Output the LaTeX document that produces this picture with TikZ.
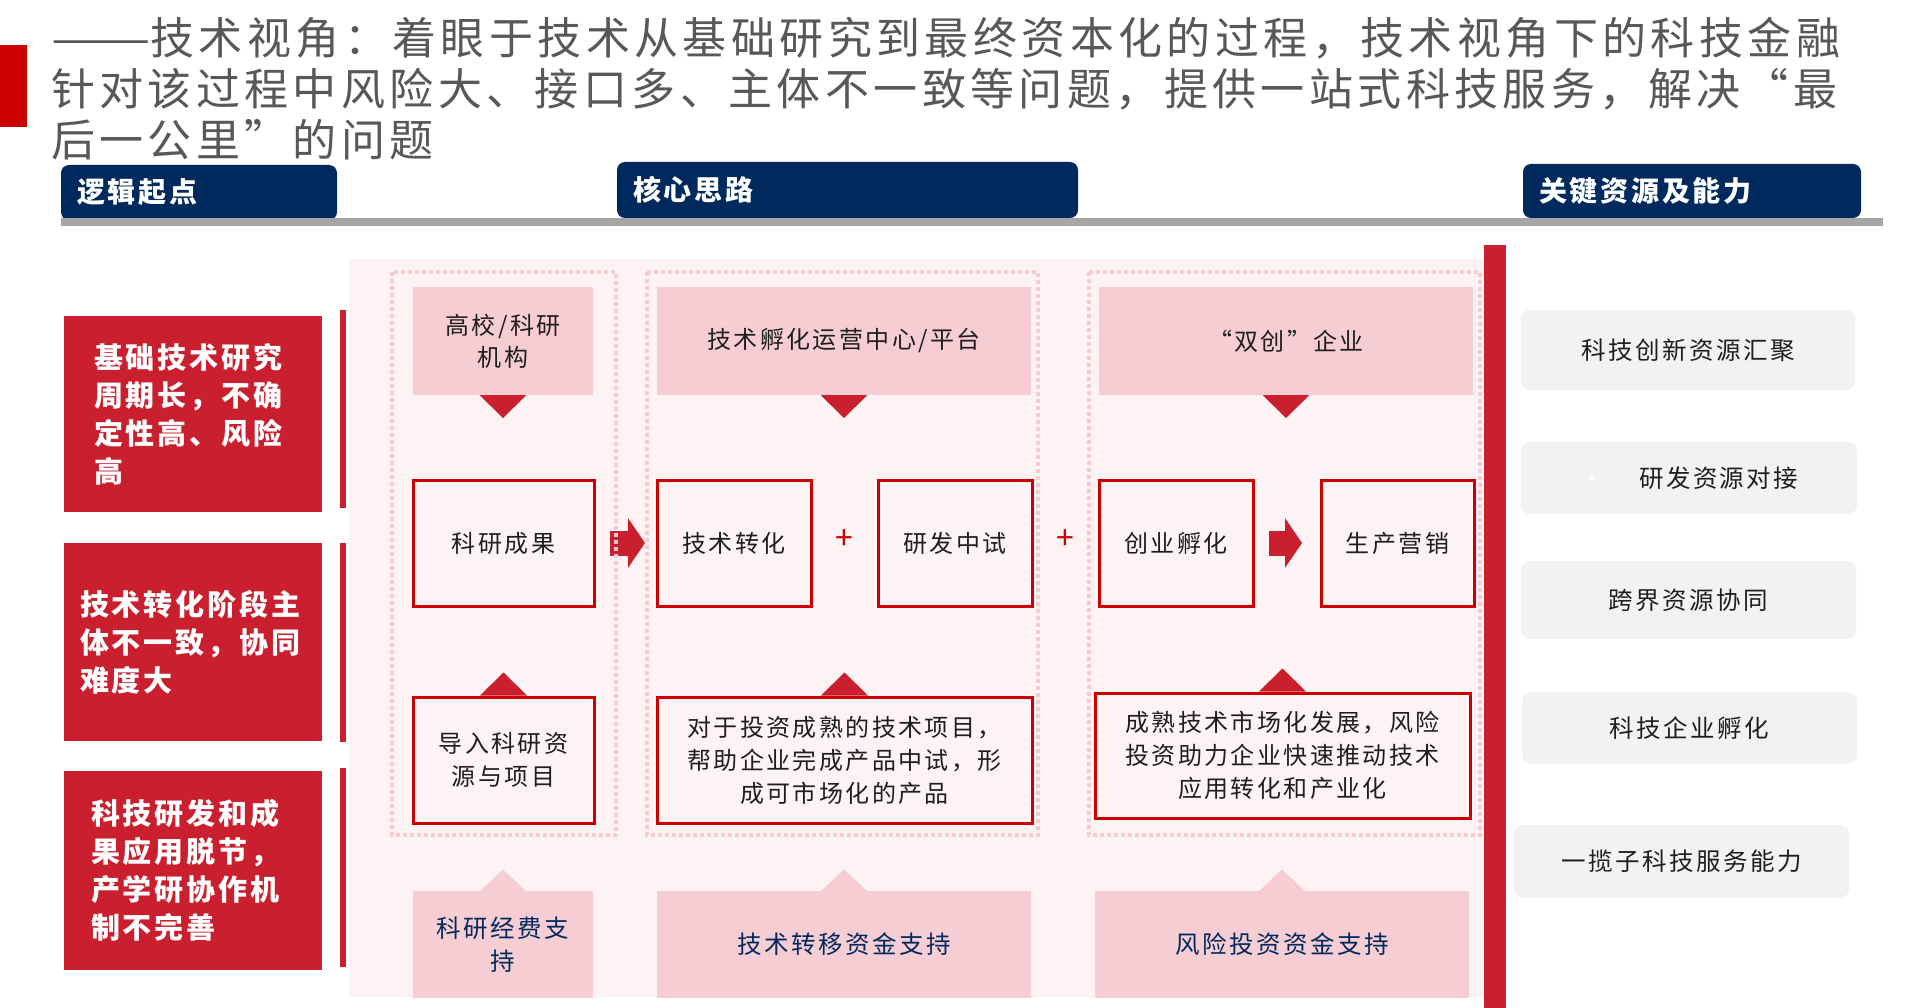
\documentclass[tikz,border=0pt]{standalone}
\usepackage{fontspec}
\setmainfont{Noto Sans CJK SC}[LetterSpace=10]
\usetikzlibrary{calc,arrows.meta}
\definecolor{navy}{RGB}{0,42,94}
\definecolor{bred}{RGB}{201,31,46}
\definecolor{ored}{RGB}{204,0,0}
\definecolor{panelpink}{RGB}{253,243,244}
\definecolor{boxpink}{RGB}{246,205,210}
\definecolor{dotpink}{RGB}{246,204,210}
\definecolor{greybox}{RGB}{242,242,242}
\definecolor{titlegrey}{RGB}{89,87,87}
\definecolor{bargrey}{RGB}{166,166,166}
\definecolor{ink}{RGB}{30,30,30}
\begin{document}
\begin{tikzpicture}[x=1pt,y=-1pt,
  every node/.style={inner sep=0pt, outer sep=0pt},
  tab/.style={fill=navy, rounded corners=8pt, text=white, font=\fontsize{28}{32}\selectfont\bfseries, anchor=north west, align=left, inner xsep=16pt},
  probbox/.style={fill=bred, text=white, font=\fontsize{29}{38}\selectfont\bfseries, anchor=north west, align=left, minimum width=258pt},
  topbox/.style={fill=boxpink, text=ink, font=\fontsize{24}{32}\selectfont, anchor=north west, align=center},
  obox/.style={draw=ored, line width=3pt, fill=panelpink, text=ink, font=\fontsize{24}{33}\selectfont, anchor=north west, align=center},
  fundbox/.style={fill=boxpink, text=navy, font=\fontsize{24.5}{33}\selectfont, anchor=north west, align=center},
  gbox/.style={fill=greybox, rounded corners=9pt, text=ink, font=\fontsize{24.5}{30}\selectfont, anchor=north west, align=center},
  plussign/.style={text=ored, font=\fontsize{32}{32}\selectfont},
  dotbox/.style={draw=dotpink, line width=4pt, dash pattern=on 4pt off 3pt},
  barrow/.style={draw=bred, line width=25pt, -{Triangle[length=17pt,width=49pt]}}
]
\useasboundingbox (0,0) rectangle (1920,1008);
\fill[white] (0,0) rectangle (1920,1008);

% title
\fill[ored] (0,45) rectangle (27,127);
\node[anchor=north west, align=left, text=titlegrey, font=\fontsize{44}{51}\selectfont] (title) at (51,17)
  {\scalebox{1.35}[1]{——}技术视角：着眼于技术从基础研究到最终资本化的过程，技术视角下的科技金融\\
   针对该过程中风险大、接口多、主体不一致等问题，提供一站式科技服务，解决“最\\
   后一公里”的问题};

% header tabs
\node[tab, text width=244pt, minimum height=55pt] (tab1) at (61,165) {逻辑起点};
\node[tab, text width=429pt, minimum height=56pt] (tab2) at (617,162) {核心思路};
\node[tab, text width=306pt, minimum height=54pt] (tab3) at (1523,164) {关键资源及能力};
\fill[bargrey] (61,218) rectangle (1883,226);

% backgrounds
\fill[panelpink] (349,258) rectangle (1484,998);
\fill[bred] (1484,245) rectangle (1506,1008);
\fill[bred] (340,310) rectangle (346,508);
\fill[bred] (340,543) rectangle (346,742);
\fill[bred] (340,768) rectangle (346,967);

% left problem boxes
\node[probbox, minimum height=196pt, text width=198pt] (p1) at (64,316) {基础技术研究\\周期长，不确\\定性高、风险\\高};
\node[probbox, minimum height=198pt, text width=226pt] (p2) at (64,543) {技术转化阶段主\\体不一致，协同\\难度大};
\node[probbox, minimum height=199pt, text width=204pt] (p3) at (64,771) {科技研发和成\\果应用脱节，\\产学研协作机\\制不完善};

% top pink boxes
\node[topbox, minimum width=180pt, minimum height=108pt] (src1) at (413,287) {高校/科研\\机构};
\node[topbox, minimum width=374pt, minimum height=108pt] (src2) at (657,287) {技术孵化运营中心/平台};
\node[topbox, minimum width=374pt, minimum height=108pt] (src3) at (1099,287) {“双创”企业};

% middle row
\node[obox, minimum width=181pt, minimum height=126pt] (kycg) at (413,480) {科研成果};
\node[obox, minimum width=154pt, minimum height=126pt] (jszh) at (657,480) {技术转化};
\node[obox, minimum width=154pt, minimum height=126pt] (yfzs) at (878,480) {研发中试};
\node[obox, minimum width=154pt, minimum height=126pt] (cyfh) at (1099,480) {创业孵化};
\node[obox, minimum width=153pt, minimum height=126pt] (scyx) at (1321,480) {生产营销};
\node[plussign] (plus1) at (844.5,540) {+};
\node[plussign] (plus2) at (1065.5,540) {+};

% third row
\node[obox, minimum width=181pt, minimum height=126pt] (dr1) at (413,697) {导入科研资\\源与项目};
\node[obox, minimum width=375pt, minimum height=126pt] (dr2) at (657,697) {对于投资成熟的技术项目，\\帮助企业完成产品中试，形\\成可市场化的产品};
\node[obox, minimum width=375pt, minimum height=125pt] (dr3) at (1095,693) {成熟技术市场化发展，风险\\投资助力企业快速推动技术\\应用转化和产业化};

% funding boxes
\node[fundbox, minimum width=180pt, minimum height=107pt] (fund1) at (413,891) {科研经费支\\持};
\node[fundbox, minimum width=374pt, minimum height=107pt] (fund2) at (657,891) {技术转移资金支持};
\node[fundbox, minimum width=374pt, minimum height=107pt] (fund3) at (1095,891) {风险投资资金支持};

% triangles
\foreach \n in {src1,src2,src3}{
  \fill[bred] ($(\n.south)+(-23.5,0)$) -- ++(47,0) -- ++(-23.5,23) -- cycle;
}
\foreach \n in {dr1,dr2,dr3}{
  \fill[bred] ($(\n.north)+(-23.5,-1.5)$) -- ++(47,0) -- ++(-23.5,-23) -- cycle;
}
\foreach \n in {fund1,fund2,fund3}{
  \fill[boxpink] ($(\n.north)+(-23.5,0.5)$) -- ++(47,0) -- ++(-23.5,-22) -- cycle;
}

% block arrows
\draw[barrow, shorten <=16pt, shorten >=12pt] (kycg) -- (jszh);
\draw[barrow, shorten <=16pt, shorten >=19pt] (cyfh) -- (scyx);

% dotted column frames
\draw[dotbox] (392,272) rectangle (616,835);
\draw[dotbox] (647,272) rectangle (1038,835);
\draw[dotbox] (1089,272) rectangle (1480,835);

% right resource boxes
\node[gbox, minimum width=334pt, minimum height=80pt] (r1) at (1521,310) {科技创新资源汇聚};
\node[gbox, minimum width=336pt, minimum height=72pt] (r2) at (1521,442) {{\color{white}•}\hspace{35pt}研发资源对接};
\node[gbox, minimum width=335pt, minimum height=78pt] (r3) at (1521,561) {跨界资源协同};
\node[gbox, minimum width=335pt, minimum height=72pt] (r4) at (1522,692) {科技企业孵化};
\node[gbox, minimum width=335pt, minimum height=73pt] (r5) at (1514,825) {一揽子科技服务能力};
\end{tikzpicture}
\end{document}
